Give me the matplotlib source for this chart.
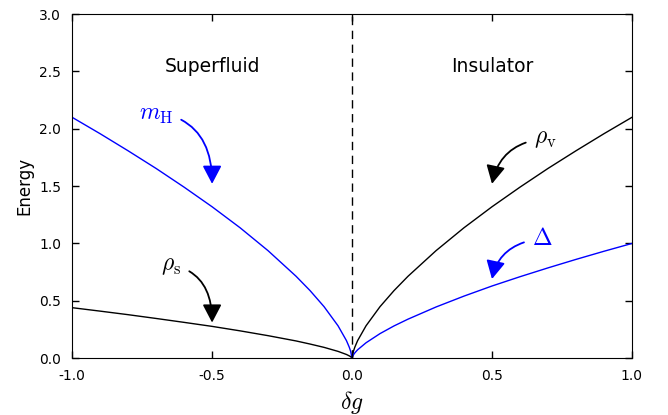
import matplotlib
matplotlib.use("Agg")
import matplotlib.pyplot as plt

plt.rcParams["mathtext.fontset"] = "cm"

x_left = [-1.0, -0.9, -0.8, -0.7, -0.6, -0.5, -0.4, -0.3, -0.2, -0.15, -0.1, -0.05, -0.02, -0.01, -0.005, 0.0]
m_H = [2.1, 1.957, 1.808, 1.654, 1.491, 1.32, 1.137, 0.937, 0.714, 0.589, 0.449, 0.282, 0.153, 0.096, 0.06, 0.0]
rho_s = [0.44, 0.41, 0.379, 0.346, 0.312, 0.277, 0.238, 0.196, 0.15, 0.123, 0.094, 0.059, 0.032, 0.02, 0.013, 0.0]

x_right = [0.0, 0.005, 0.01, 0.02, 0.05, 0.1, 0.15, 0.2, 0.3, 0.4, 0.5, 0.6, 0.7, 0.8, 0.9, 1.0]
rho_v = [0.0, 0.06, 0.096, 0.153, 0.282, 0.449, 0.589, 0.714, 0.937, 1.137, 1.32, 1.491, 1.654, 1.808, 1.957, 2.1]
gap = [0.0, 0.029, 0.046, 0.073, 0.134, 0.214, 0.281, 0.34, 0.446, 0.541, 0.629, 0.71, 0.787, 0.861, 0.932, 1.0]

fig = plt.figure(figsize=(6.68, 4.15), dpi=100)
ax = fig.add_axes([0.108, 0.137, 0.838, 0.829])

ax.plot(x_left, m_H, color="blue", lw=1)
ax.plot(x_left, rho_s, color="black", lw=1)
ax.plot(x_right, rho_v, color="black", lw=1)
ax.plot(x_right, gap, color="blue", lw=1)
ax.axvline(0, color="black", ls="--", lw=1, dashes=(6, 4))

ax.text(-0.5, 2.54, "Superfluid", ha="center", va="center", fontsize=13.5)
ax.text(0.5, 2.54, "Insulator", ha="center", va="center", fontsize=13.5)

def label(txt, xy, xytext, col, angA, angB, rel):
    ax.annotate(txt, xy=xy, xytext=xytext, color=col, fontsize=17,
                ha="center", va="center",
                arrowprops=dict(arrowstyle="-|>,head_length=0.65,head_width=0.34",
                                color=col, lw=1.3, relpos=rel,
                                connectionstyle="angle3,angleA=%d,angleB=%d" % (angA, angB),
                                shrinkA=4, shrinkB=0))

label(r"$m_{\rm H}$", (-0.5, 1.52), (-0.70, 2.13), "blue", -20, 90, (1.0, 0.4))
label(r"$\rho_{\rm s}$", (-0.5, 0.31), (-0.645, 0.81), "black", -20, 90, (1.0, 0.4))
label(r"$\rho_{\rm v}$", (0.5, 1.52), (0.69, 1.92), "black", 12, 78, (0.0, 0.4))
label(r"$\Delta$", (0.5, 0.69), (0.68, 1.05), "blue", 12, 78, (0.0, 0.4))

ax.set_xlim(-1, 1)
ax.set_ylim(0, 3)
ax.set_xticks([-1.0, -0.5, 0.0, 0.5, 1.0])
ax.set_yticks([0.0, 0.5, 1.0, 1.5, 2.0, 2.5, 3.0])
ax.set_xticklabels(["-1.0", "-0.5", "0.0", "0.5", "1.0"])
ax.tick_params(direction="in", top=True, right=True, length=5, width=1, labelsize=10, pad=8)
ax.set_xlabel(r"$\delta g$", fontsize=17)
ax.set_ylabel("Energy", fontsize=12)

fig.savefig("out.png", dpi=100)
